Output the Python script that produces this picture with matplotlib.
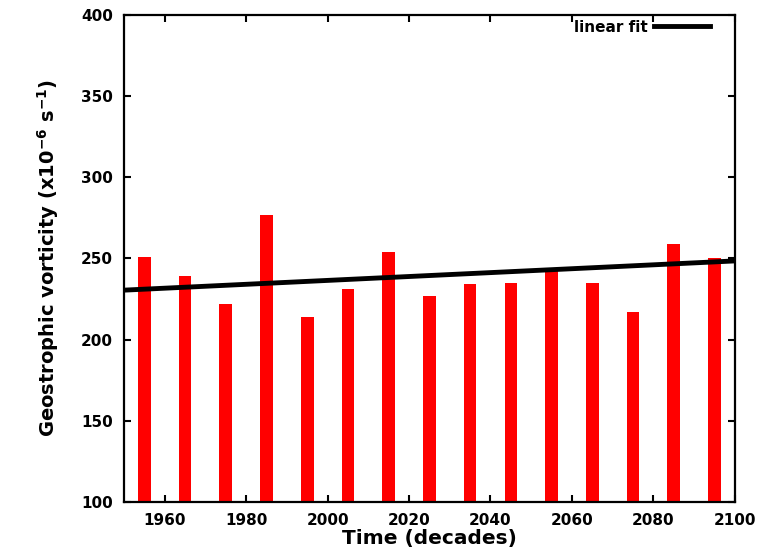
import matplotlib.pyplot as plt
import numpy as np

plt.rcParams['font.family'] = ['DejaVu Sans']
plt.rcParams['font.weight'] = 'bold'
plt.rcParams['mathtext.fontset'] = 'dejavusans'
plt.rcParams['mathtext.default'] = 'bf'

# decade centres and geostrophic vorticity values (x10^-6 s^-1)
decades = [1955, 1965, 1975, 1985, 1995, 2005, 2015, 2025,
           2035, 2045, 2055, 2065, 2075, 2085, 2095]
vorticity = [251, 239, 222, 277, 214, 231, 254, 227,
             234, 235, 242, 235, 217, 259, 250]

# linear fit line end points as drawn in the figure
fit_years = [1950, 2100]
fit_values = [230.5, 248.5]

x_ticks = [1960, 1980, 2000, 2020, 2040, 2060, 2080, 2100]
y_ticks = [100, 150, 200, 250, 300, 350, 400]

fig = plt.figure(figsize=(7.8, 5.55), dpi=100)
ax = fig.add_axes([0.159, 0.0955, 0.783, 0.8775])

ax.bar(decades, vorticity, width=3.1, color='#ff0000', zorder=2)
ax.plot(fit_years, fit_values, color='black', lw=3.5, label='linear fit', zorder=3)

ax.set_xlim(1950, 2100)
ax.set_ylim(100, 400)
ax.set_xticks(x_ticks)
ax.set_yticks(y_ticks)
ax.tick_params(direction='in', length=5, width=1.5, top=True, right=True,
               labelsize=11, pad=8)
for lab in ax.get_xticklabels() + ax.get_yticklabels():
    lab.set_fontweight('bold')
for sp in ax.spines.values():
    sp.set_linewidth(1.6)

ax.set_xlabel('Time (decades)', fontsize=14.5, fontweight='bold', labelpad=1)
ax.set_ylabel(r'Geostrophic vorticity (x10$^{-6}$ s$^{-1}$)', fontsize=14,
              fontweight='bold', labelpad=14)

leg = ax.legend(loc='upper right', frameon=False, markerfirst=False,
                handlelength=3.7, handletextpad=0.4, fontsize=11,
                borderaxespad=0, bbox_to_anchor=(0.97, 1.003))
for t in leg.get_texts():
    t.set_fontweight('bold')

fig.savefig('out.png', dpi=100)
